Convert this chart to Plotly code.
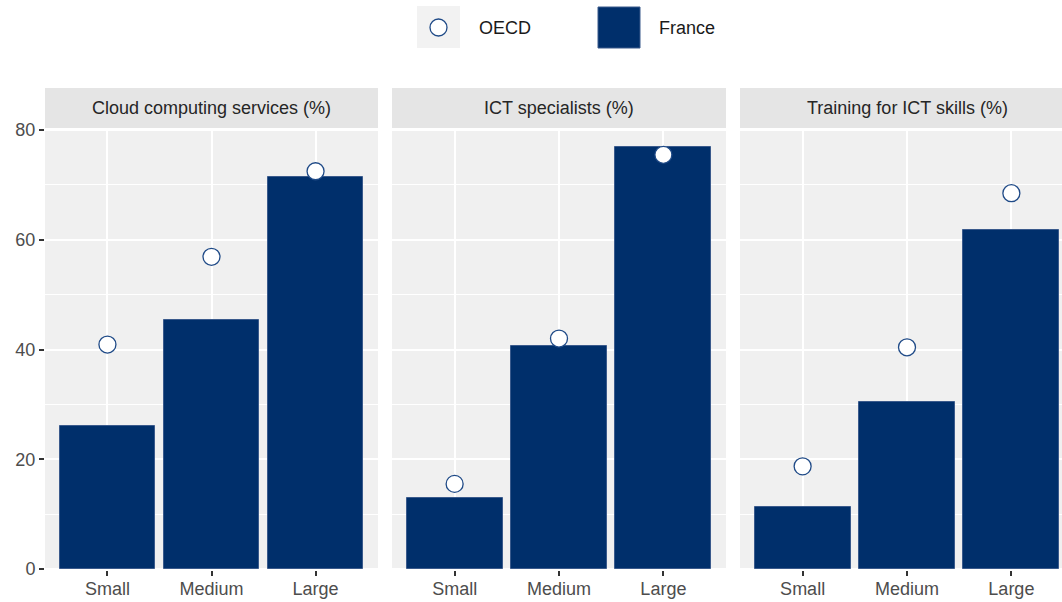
import plotly.graph_objects as go

categories = ["Small", "Medium", "Large"]
panels = ["Cloud computing services (%)", "ICT specialists (%)", "Training for ICT skills (%)"]
france = [
    [26.0, 45.3, 71.5],
    [12.9, 40.7, 76.9],
    [11.3, 30.4, 61.8],
]
oecd = [
    [40.9, 56.9, 72.5],
    [15.5, 42.0, 75.5],
    [18.7, 40.4, 68.5],
]
y_ticks = [0, 20, 40, 60, 80]

W, H = 1062, 602
NAVY = "#002F6B"
FONT = "Liberation Sans, Arial, Helvetica, sans-serif"


def fx(px):
    return px / W


def fy(py):
    return 1 - py / H


# panel extents in window pixels (third panel runs past the right edge)
px_domains = [(45, 378), (392, 726), (740, 1074)]
ydom = [fy(570), fy(129)]

fig = go.Figure()
shapes = []
annotations = []

for i in range(3):
    xa = "x" if i == 0 else f"x{i+1}"
    ya = "y" if i == 0 else f"y{i+1}"
    fig.add_trace(go.Bar(
        x=categories, y=france[i], xaxis=xa, yaxis=ya,
        marker=dict(color=NAVY, line=dict(color="#3A5A8C", width=1)),
        width=0.92, showlegend=False, hoverinfo="y",
    ))
    fig.add_trace(go.Scatter(
        x=categories, y=oecd[i], xaxis=xa, yaxis=ya, mode="markers",
        marker=dict(symbol="circle", size=17, color="white",
                    line=dict(color="#1F4A87", width=1.3)),
        showlegend=False, hoverinfo="y",
    ))
    x0p, x1p = px_domains[i]
    vis1 = min(x1p, W)
    frac = (vis1 - x0p) / (x1p - x0p)
    xr = [-0.6, -0.6 + 3.2 * frac]
    d = [fx(x0p), fx(vis1)]
    xkey = "xaxis" if i == 0 else f"xaxis{i+1}"
    ykey = "yaxis" if i == 0 else f"yaxis{i+1}"
    fig.update_layout(**{
        xkey: dict(domain=d, anchor=ya, type="category", range=xr,
                   showgrid=True, gridcolor="white", gridwidth=2,
                   ticks="outside", ticklen=5, tickwidth=1.5, tickcolor="#333333",
                   ticklabelstandoff=-3,
                   tickfont=dict(family=FONT, size=18, color="#4D4D4D"),
                   zeroline=False, showline=False, fixedrange=True, automargin=False),
        ykey: dict(domain=ydom, anchor=xa, range=[-0.2, 80.2],
                   tickvals=y_ticks, showgrid=True, gridcolor="white", gridwidth=2,
                   minor=dict(dtick=10, tick0=0, showgrid=True, gridcolor="white", gridwidth=1),
                   ticks="outside" if i == 0 else "", ticklen=5, tickwidth=1.5,
                   tickcolor="#333333", showticklabels=(i == 0),
                   tickfont=dict(family=FONT, size=18, color="#4D4D4D"),
                   zeroline=False, showline=False, fixedrange=True, automargin=False),
    })
    # panel background
    shapes.append(dict(type="rect", xref="paper", yref="paper",
                       x0=d[0], x1=d[1], y0=ydom[0], y1=ydom[1],
                       fillcolor="#F0F0F0", line=dict(width=0), layer="below"))
    # strip
    shapes.append(dict(type="rect", xref="paper", yref="paper",
                       x0=d[0], x1=d[1], y0=fy(128), y1=fy(88),
                       fillcolor="#E5E5E5", line=dict(width=0), layer="below"))
    annotations.append(dict(text=panels[i], xref="paper", yref="paper",
                            x=fx((x0p + x1p) / 2), y=fy(108),
                            showarrow=False, xanchor="center", yanchor="middle",
                            font=dict(family=FONT, size=18, color="#262626")))

# custom legend
shapes.append(dict(type="rect", xref="paper", yref="paper",
                   x0=fx(417), x1=fx(460), y0=fy(48), y1=fy(6),
                   fillcolor="#F2F2F2", line=dict(width=0)))
shapes.append(dict(type="circle", xref="paper", yref="paper",
                   x0=fx(430), x1=fx(447), y0=fy(36), y1=fy(19),
                   fillcolor="white", line=dict(color="#1F4A87", width=1.3)))
shapes.append(dict(type="rect", xref="paper", yref="paper",
                   x0=fx(598), x1=fx(640), y0=fy(48), y1=fy(7),
                   fillcolor=NAVY, line=dict(color="#3A5A8C", width=1)))
annotations.append(dict(text="OECD", xref="paper", yref="paper", x=fx(477), y=fy(28),
                        xanchor="left", yanchor="middle", showarrow=False,
                        font=dict(family=FONT, size=18, color="#1A1A1A")))
annotations.append(dict(text="France", xref="paper", yref="paper", x=fx(657), y=fy(28),
                        xanchor="left", yanchor="middle", showarrow=False,
                        font=dict(family=FONT, size=18, color="#1A1A1A")))

fig.update_layout(width=W, height=H, autosize=False, margin=dict(l=0, r=0, t=0, b=0, pad=0),
                  paper_bgcolor="white", plot_bgcolor="rgba(0,0,0,0)",
                  shapes=shapes, annotations=annotations, bargap=0,
                  font=dict(family=FONT))
fig.write_html("out.html", config={"displayModeBar": False},
               post_script="document.body.style.margin='0px';document.body.style.overflow='hidden';")
